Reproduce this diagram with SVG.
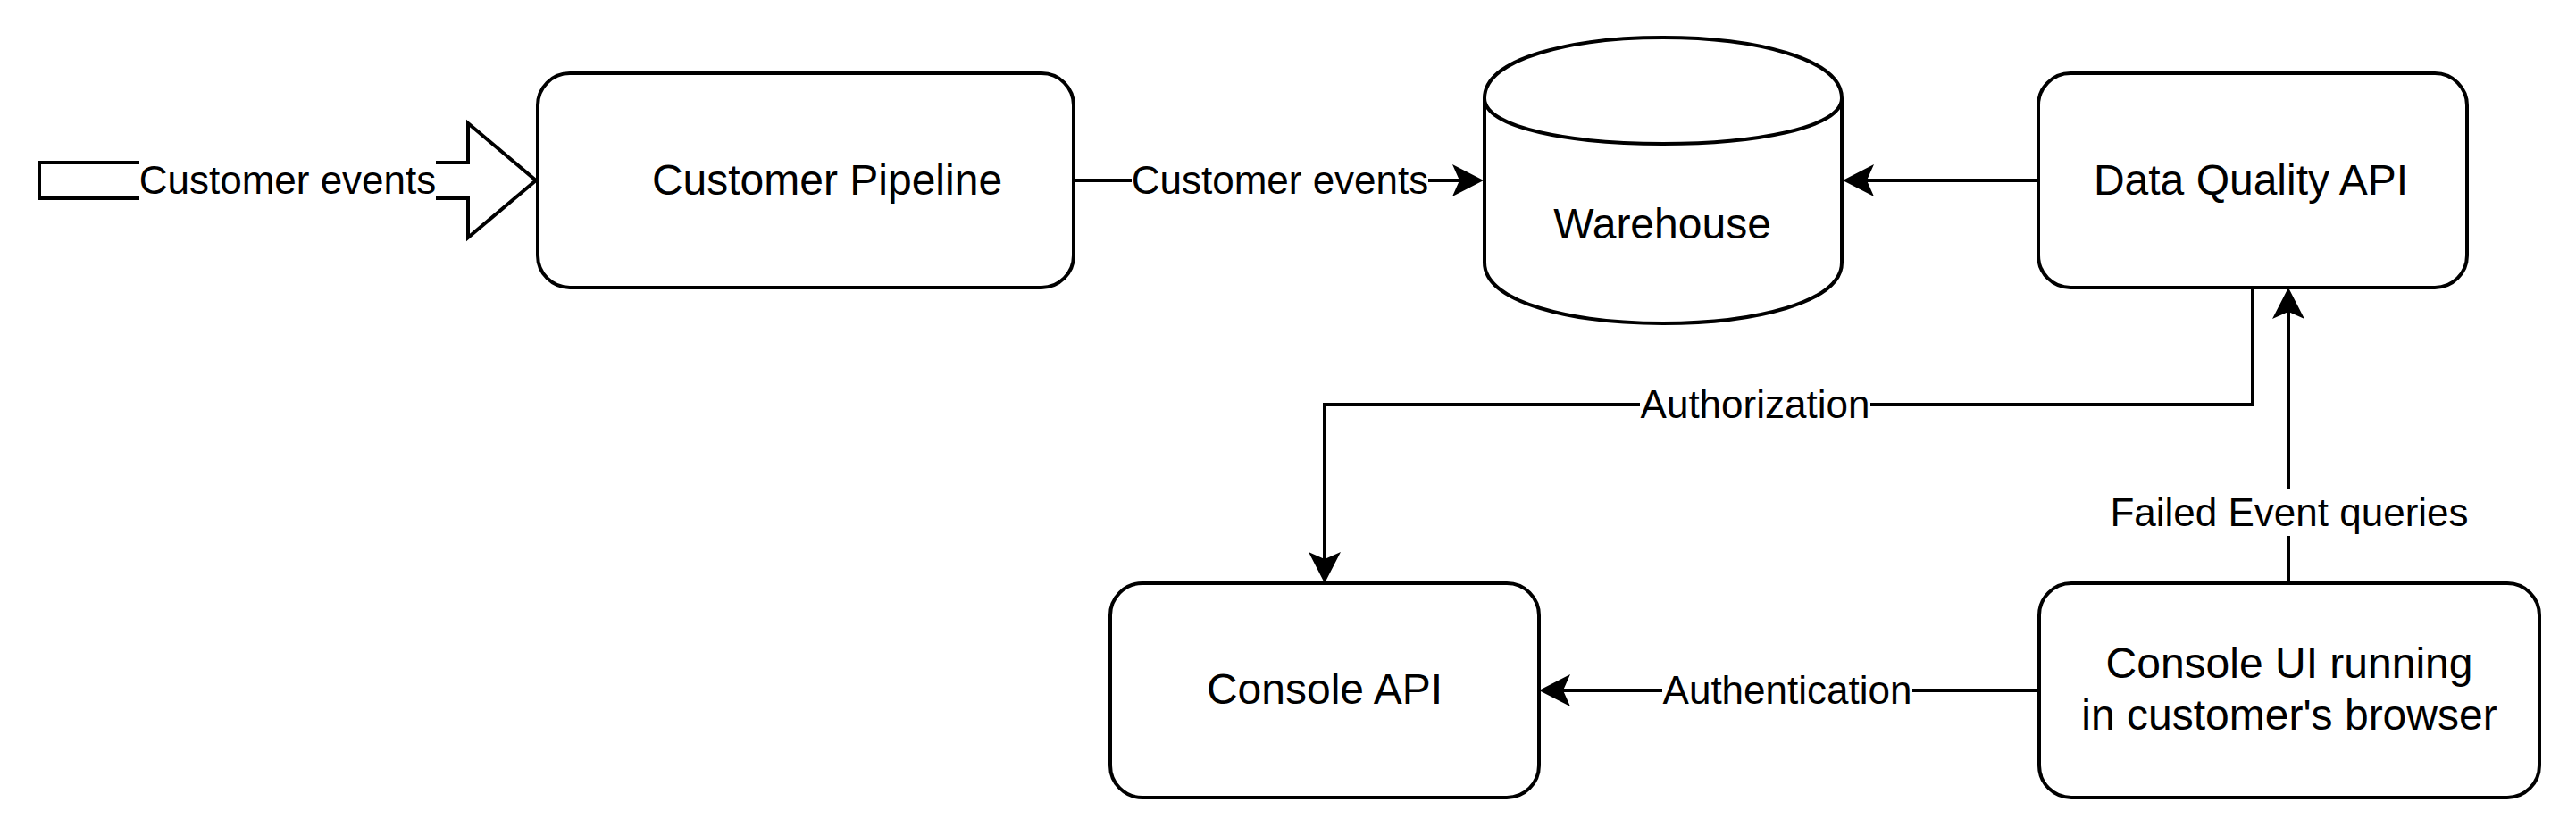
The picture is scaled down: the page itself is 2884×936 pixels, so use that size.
<svg xmlns="http://www.w3.org/2000/svg" width="2884" height="936" viewBox="0 0 2884 936">
<style>
.node{fill:#fff;stroke:#000;stroke-width:4}
.edge{fill:none;stroke:#000;stroke-width:4}
.bg{fill:#fff}
.t{font-family:"Liberation Sans",Arial,Helvetica,sans-serif;font-size:48px;text-anchor:middle;fill:#000}
.e{font-size:44px}
</style>
<defs>
<marker id="arr" markerUnits="userSpaceOnUse" markerWidth="36" markerHeight="36" viewBox="0 0 36 36" refX="8" refY="18" orient="auto">
<path d="M0,0 L35,18 L0,36 L8,18 Z" fill="#000"/>
</marker>
</defs>
<rect x="0" y="0" width="2884" height="936" fill="#fff"/>
<g id="connectors">
<g id="edge-input">
<path class="node" d="M44,182 H524 V138 L600,202 L524,266 V222 H44 Z"/>
<rect class="bg" x="156" y="176" width="332" height="52"/>
<text class="t e" x="322" y="217">Customer events</text>
</g>
<g id="edge-pipeline-warehouse">
<path class="edge" d="M1202,202 H1634" marker-end="url(#arr)"/>
<rect class="bg" x="1267" y="176" width="332" height="52"/>
<text class="t e" x="1433" y="217">Customer events</text>
</g>
<g id="edge-dq-warehouse">
<path class="edge" d="M2282,202 H2090" marker-end="url(#arr)"/>
</g>
<g id="edge-authorization">
<path class="edge" d="M2522,322 V453 H1483 V626" marker-end="url(#arr)"/>
<rect class="bg" x="1836" y="427" width="258" height="52"/>
<text class="t e" x="1965" y="468">Authorization</text>
</g>
<g id="edge-failed">
<path class="edge" d="M2562,653 V349" marker-end="url(#arr)"/>
<rect class="bg" x="2362" y="548" width="402" height="52"/>
<text class="t e" x="2563" y="589">Failed Event queries</text>
</g>
<g id="edge-authentication">
<path class="edge" d="M2283,773 H1750" marker-end="url(#arr)"/>
<rect class="bg" x="1861" y="747" width="280" height="52"/>
<text class="t e" x="2001" y="788">Authentication</text>
</g>
</g>
<g id="customer-pipeline">
<rect class="node" x="602" y="82" width="600" height="240" rx="36" ry="36"/>
<text class="t" x="926" y="218">Customer Pipeline</text>
</g>
<g id="warehouse">
<path class="node" d="M1662,110 C1662,19.33 2062,19.33 2062,110 L2062,294 C2062,384.67 1662,384.67 1662,294 Z"/>
<path class="edge" d="M1662,110 C1662,178 2062,178 2062,110"/>
<text class="t" x="1861" y="267">Warehouse</text>
</g>
<g id="data-quality-api">
<rect class="node" x="2282" y="82" width="480" height="240" rx="36" ry="36"/>
<text class="t" x="2520" y="218">Data Quality API</text>
</g>
<g id="console-api">
<rect class="node" x="1243" y="653" width="480" height="240" rx="36" ry="36"/>
<text class="t" x="1483" y="788">Console API</text>
</g>
<g id="console-ui">
<rect class="node" x="2283" y="653" width="560" height="240" rx="36" ry="36"/>
<text class="t" x="2563" y="759">Console UI running</text>
<text class="t" x="2563" y="817">in customer's browser</text>
</g>
</svg>
